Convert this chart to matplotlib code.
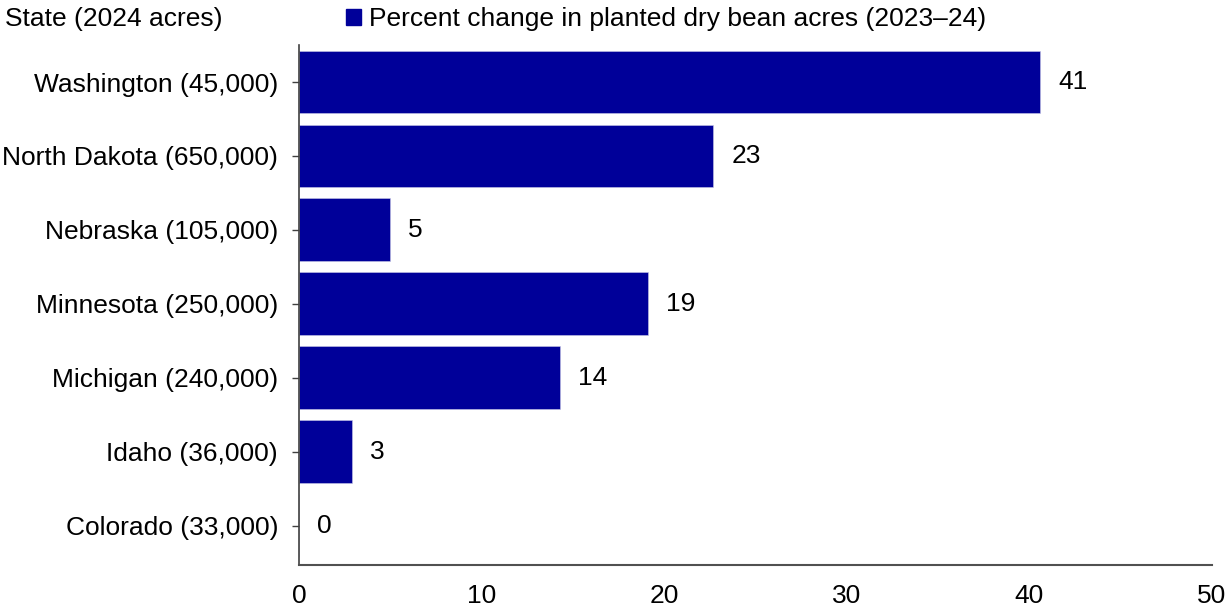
import matplotlib.pyplot as plt
from matplotlib.patches import Patch

plt.rcParams['font.family'] = ['Liberation Sans', 'DejaVu Sans']

# planted dry bean acres by state, percent change 2023-24
states = ['Washington (45,000)', 'North Dakota (650,000)', 'Nebraska (105,000)',
          'Minnesota (250,000)', 'Michigan (240,000)', 'Idaho (36,000)',
          'Colorado (33,000)']
pct_change = [40.6, 22.7, 5.0, 19.1, 14.3, 2.9, 0.0]

navy = '#000099'
fs = 19

fig = plt.figure(figsize=(12.25, 6.06), dpi=100)
ax = fig.add_axes([0.244, 0.0677, 0.745, 0.858])

pos = list(range(len(states)))
ax.barh(pos, pct_change, height=0.85, color=navy, edgecolor='#c8c8e6', linewidth=0.4)

for p, v in zip(pos, pct_change):
    ax.text(v + 1.0, p, f'{round(v)}', va='center', ha='left', fontsize=fs)

ax.set_yticks(pos)
ax.set_yticklabels(states, fontsize=fs)
ax.set_ylim(len(states) - 0.47, -0.5)
ax.set_xlim(0, 50)
ax.set_xticks([0, 10, 20, 30, 40, 50])
ax.tick_params(axis='x', length=0, labelsize=fs, pad=14)
ax.tick_params(axis='y', length=5, width=1, color='#404040', pad=10)

for s in ['top', 'right']:
    ax.spines[s].set_visible(False)
ax.spines['left'].set_color('#404040')
ax.spines['bottom'].set_color('#505050')
ax.spines['left'].set_linewidth(1.2)
ax.spines['bottom'].set_linewidth(1.5)

fig.text(0.004, 0.968, 'State (2024 acres)', fontsize=fs, va='center', ha='left')
fig.legend(handles=[Patch(color=navy, label='Percent change in planted dry bean acres (2023\u201324)')],
           loc='center left', bbox_to_anchor=(0.274, 0.968), frameon=False, fontsize=fs,
           handlelength=0.55, handleheight=0.55, handletextpad=0.3, borderaxespad=0)

fig.savefig('out.png', dpi=100)
